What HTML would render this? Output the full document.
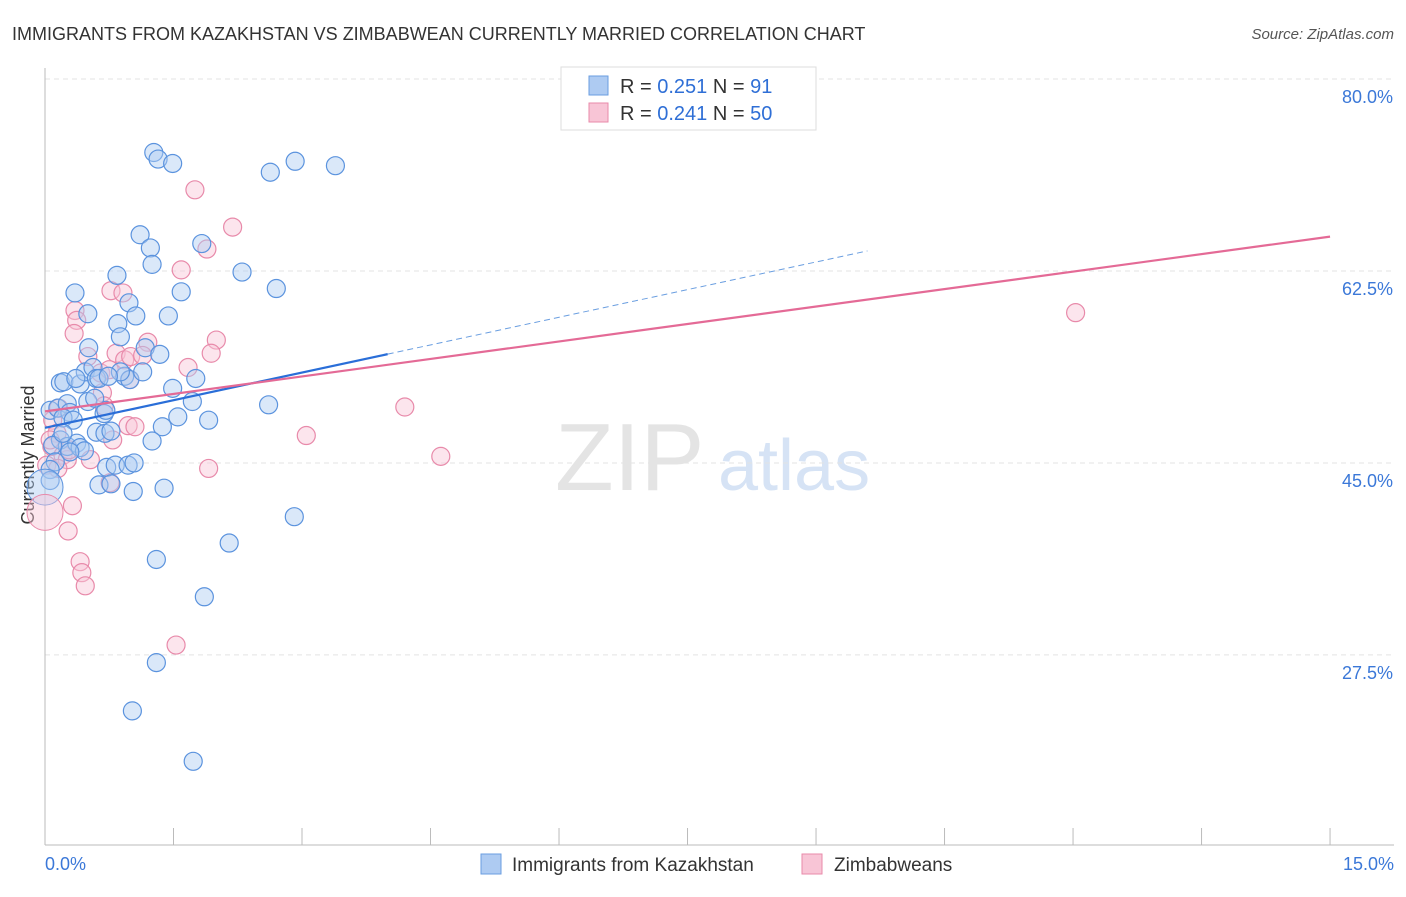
<!DOCTYPE html>
<html><head><meta charset="utf-8"><style>
body{margin:0;background:#fff;font-family:"Liberation Sans",sans-serif;}
svg text{font-family:"Liberation Sans",sans-serif;}
</style></head><body>
<svg id="chart" width="1406" height="892" xmlns="http://www.w3.org/2000/svg">
<text x="12" y="40" font-size="18" fill="#333">IMMIGRANTS FROM KAZAKHSTAN VS ZIMBABWEAN CURRENTLY MARRIED CORRELATION CHART</text>
<text x="1394" y="39" font-size="15" fill="#555" text-anchor="end" font-style="italic">Source: ZipAtlas.com</text>
<text x="34" y="455" font-size="18" fill="#333" text-anchor="middle" transform="rotate(-90 34 455)">Currently Married</text>
<text x="555" y="490" font-size="96" fill="#e4e4e4" font-family="Liberation Serif">ZIP</text>
<text x="718" y="490" font-size="72" fill="#d6e3f5">atlas</text>
<g id="grid"></g><g id="axes"></g><g id="pts"></g><g id="lines"></g>
<g>
<rect x="561" y="67" width="255" height="63" fill="#fff" stroke="#ddd"/>
<rect x="589" y="76" width="19" height="19" fill="#aecbf2" stroke="#6a9ee0"/>
<text x="620" y="93" font-size="20" fill="#333">R = <tspan fill="#2f6fd6">0.251</tspan>   N =  <tspan fill="#2f6fd6">91</tspan></text>
<rect x="589" y="103" width="19" height="19" fill="#f8c5d6" stroke="#e88aaa"/>
<text x="620" y="120" font-size="20" fill="#333">R = <tspan fill="#2f6fd6">0.241</tspan>   N = <tspan fill="#2f6fd6">50</tspan></text>
</g>
<g>
<rect x="481" y="854" width="20" height="20" fill="#aecbf2" stroke="#6a9ee0"/>
<text x="512" y="871" font-size="19" fill="#333">Immigrants from Kazakhstan</text>
<rect x="802" y="854" width="20" height="20" fill="#f8c5d6" stroke="#e88aaa"/>
<text x="834" y="871" font-size="19" fill="#333">Zimbabweans</text>
</g>
</svg>
<script>
const NS="http://www.w3.org/2000/svg";
const yTicks=[80,62.5,45,27.5];
const yTickLabels=["80.0%","62.5%","45.0%","27.5%"];
const xTickLabels=["0.0%","15.0%"];
const bluePx=[[154,152],[158,159],[173,163],[270,172],[295,161],[335,166],[140,235],[150,248],[152,264],[202,244],[242,272],[117,275],[75,293],[181,292],[276,289],[129,303],[88,314],[118,324],[136,316],[168,316],[120,337],[89,348],[145,348],[160,354],[60,383],[64,382],[80,384],[85,372],[93,368],[96,378],[99,378],[125,376],[130,380],[143,372],[196,378],[173,388],[50,410],[58,408],[67,404],[70,413],[88,402],[104,414],[106,410],[192,402],[269,405],[178,417],[209,420],[162,427],[96,432],[105,433],[111,431],[152,441],[60,440],[67,446],[77,443],[80,448],[84,451],[70,452],[53,445],[55,462],[50,470],[107,467],[115,465],[128,465],[134,463],[99,485],[111,484],[133,492],[164,488],[50,480],[294,517],[229,543],[156,559],[204,597],[156,663],[132,711],[193,761],[120,372],[76,378],[63,418],[73,420],[108,376],[95,398],[63,433]];
const pinkPx=[[195,190],[233,227],[207,249],[181,270],[111,291],[123,293],[75,310],[77,320],[74,334],[148,342],[216,340],[88,356],[116,353],[125,360],[131,357],[143,355],[211,353],[188,367],[101,373],[109,370],[102,393],[130,380],[104,406],[128,426],[135,427],[306,436],[405,407],[441,456],[1076,313],[53,420],[57,433],[52,447],[63,455],[67,460],[90,460],[47,465],[58,468],[110,483],[209,468],[72,506],[68,531],[80,562],[82,573],[85,586],[176,645],[59,408],[50,440],[69,450],[113,440]];
// data values (x %, y %)
const kazX=bluePx.map(p=>+((p[0]-45)/85.67).toFixed(2));
const kazY=bluePx.map(p=>+(80-(p[1]-79)/10.97).toFixed(1));
const zimX=pinkPx.map(p=>+((p[0]-45)/85.67).toFixed(2));
const zimY=pinkPx.map(p=>+(80-(p[1]-79)/10.97).toFixed(1));
const xs=v=>45+v*85.67, ys=v=>79+(80-v)*10.97;
function el(t,a,p){const e=document.createElementNS(NS,t);for(const k in a)e.setAttribute(k,a[k]);p.appendChild(e);return e;}
const grid=document.getElementById('grid'),axes=document.getElementById('axes'),pts=document.getElementById('pts'),lines=document.getElementById('lines');
yTicks.forEach((v,i)=>{
 const g=el('line',{x1:45,x2:1394,y1:ys(v),y2:ys(v),stroke:'#e3e3e3','stroke-dasharray':'5,4'},grid);
 
 
 const t=el('text',{x:1393,y:ys(v)+24,'font-size':18,fill:'#3b78d8','text-anchor':'end'},axes);
 t.textContent=yTickLabels[i];
 
 
});
const ax=el('line',{x1:45,x2:1394,y1:845,y2:845,stroke:'#bbb'},axes);


const ay=el('line',{x1:45,x2:45,y1:68,y2:845,stroke:'#bbb'},axes);


for(let i=0;i<=10;i++){const tk=el('line',{x1:xs(i*1.5),x2:xs(i*1.5),y1:828,y2:845,stroke:'#bbb'},axes);
 
 }
[[0,'start',45],[15,'end',1394]].forEach((d,i)=>{const t=el('text',{x:d[2],y:870,'font-size':18,fill:'#3b78d8','text-anchor':d[1]},axes);t.textContent=xTickLabels[i];
 
 });
function dots(X,Y,fill,stroke,name){X.forEach((x,i)=>{const c=el('circle',{cx:xs(x),cy:ys(Y[i]),r:9,fill:fill,'fill-opacity':0.45,stroke:stroke,'stroke-width':1.2},pts);
 
 });}
dots(zimX,zimY,'#f8c5d6','#e88aaa','zimbabwe-point');
dots(kazX,kazY,'#aecbf2','#5b93de','kazakhstan-point');
const big1=el('circle',{cx:xs(0),cy:ys(42.8),r:18,fill:'#aecbf2','fill-opacity':0.45,stroke:'#5b93de'},pts);


const big2=el('circle',{cx:xs(0),cy:ys(40.5),r:18,fill:'#f8c5d6','fill-opacity':0.45,stroke:'#e88aaa'},pts);


// trend lines
const kazB=[48.2,1.68], zimB=[49.7,1.062];
const l1=el('line',{x1:xs(0),y1:ys(kazB[0]),x2:xs(4),y2:ys(kazB[0]+kazB[1]*4),stroke:'#2a6ed8','stroke-width':2.2},lines);


const l1d=el('line',{x1:xs(4),y1:ys(kazB[0]+kazB[1]*4),x2:xs(9.6),y2:ys(kazB[0]+kazB[1]*9.6),stroke:'#6a9ee0','stroke-width':1,'stroke-dasharray':'6,4'},lines);


const l2=el('line',{x1:xs(0),y1:ys(zimB[0]),x2:xs(15),y2:ys(zimB[0]+zimB[1]*15),stroke:'#e46a96','stroke-width':2.2},lines);


</script>
</body></html>
